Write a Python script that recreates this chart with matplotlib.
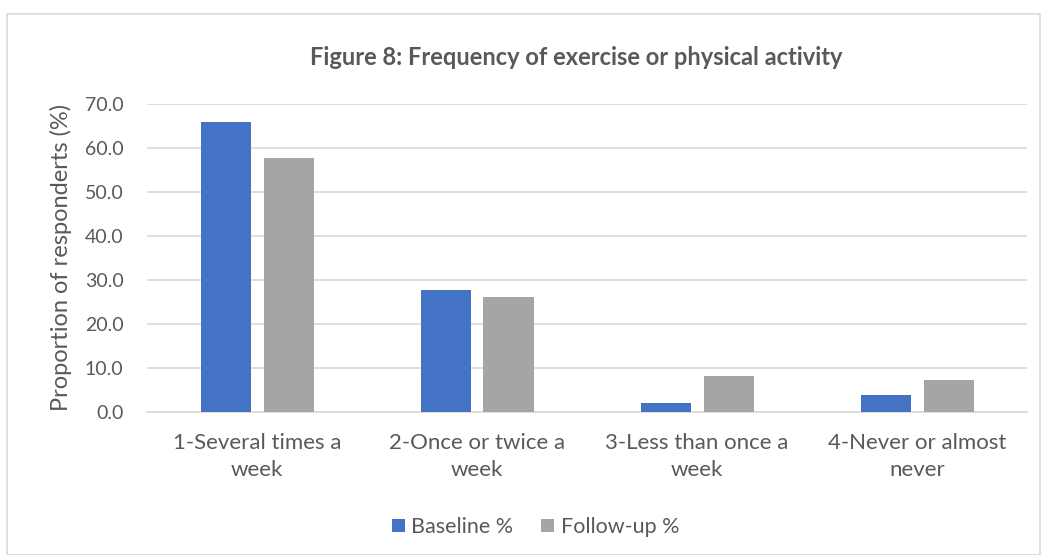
import matplotlib.pyplot as plt
import numpy as np
from matplotlib.patches import Rectangle

categories = ["1-Several times a\nweek", "2-Once or twice a\nweek", "3-Less than once a\nweek", "4-Never or almost\nnever"]
baseline = [66.0, 27.8, 2.1, 4.0]
followup = [57.9, 26.2, 8.3, 7.3]
series_names = ["Baseline %", "Follow-up %"]
yticks = [0, 10, 20, 30, 40, 50, 60, 70]

plt.rcParams['font.family'] = ['Lato', 'DejaVu Sans']
W, H = 1042, 555
fig = plt.figure(figsize=(W/100, H/100), dpi=100)
ax = fig.add_axes([147/W, 1-412.3/H, 880/W, 308/H])

x = np.arange(len(categories))
bw = 50/220
gap = 13/220
ax.bar(x - (bw+gap)/2, baseline, bw, color="#4472C4", label=series_names[0], zorder=3)
ax.bar(x + (bw+gap)/2, followup, bw, color="#A5A5A5", label=series_names[1], zorder=3)

ax.set_xlim(-0.5, len(categories)-0.5)
ax.set_ylim(0, 70)
ax.set_yticks(yticks)
ax.set_yticklabels([f"{v:.1f}" for v in yticks], fontsize=14, color="#595959")
ax.set_xticks(x)
ax.set_xticklabels(categories, fontsize=16, color="#595959", linespacing=1.45)
ax.tick_params(length=0)
ax.tick_params(axis='y', pad=17)
ax.tick_params(axis='x', pad=15)
ax.grid(axis='y', color="#D9D9D9", linewidth=1.2, zorder=0)
for s in ["top", "right", "left"]:
    ax.spines[s].set_visible(False)
ax.spines["bottom"].set_color("#D9D9D9")
ax.spines["bottom"].set_linewidth(1.2)
ax.set_ylabel("Proportion of responderts (%)", fontsize=17, color="#595959")
ax.yaxis.set_label_coords((72-147)/880, 0.504)

fig.text(576/W, 1-57/H, "Figure 8: Frequency of exercise or physical activity", ha="center", va="center",
         fontsize=17, fontweight="bold", color="#595959")

fig.legend(loc="center", bbox_to_anchor=(535.5/W, 1-527/H), ncol=2, frameon=False, fontsize=15.5,
           handlelength=0.6, handleheight=0.6, handletextpad=0.3, columnspacing=1.3, labelcolor="#595959")

fig.patches.append(Rectangle((7/W, 0.0), 1033/W, 1-14/H, transform=fig.transFigure, fill=False,
                             edgecolor="#D9D9D9", linewidth=1.2))

fig.savefig("out.png", dpi=100)
